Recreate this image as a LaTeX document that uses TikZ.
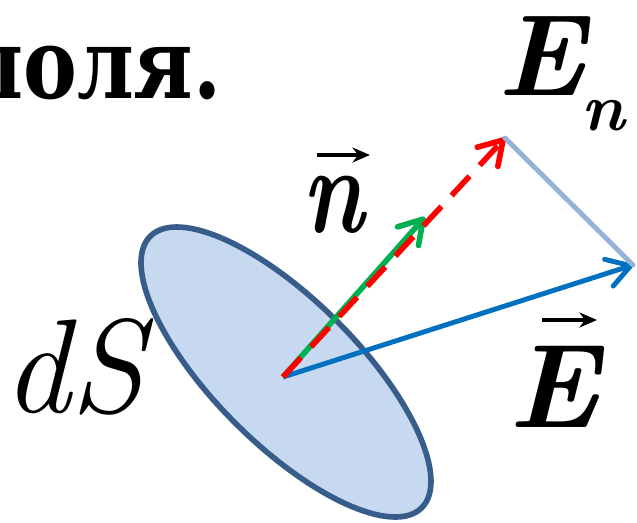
\documentclass[tikz,border=0pt]{standalone}
\usepackage{fontspec}
\usepackage{graphicx}
\newfontfamily\dvserif{DejaVu Serif}[FakeStretch=0.82]
\usetikzlibrary{arrows.meta}
\definecolor{surffill}{HTML}{C6D9F1}
\definecolor{surfline}{HTML}{385D8A}
\definecolor{eblue}{HTML}{0070C0}
\definecolor{ngreen}{HTML}{00B050}
\definecolor{projline}{HTML}{95B3D7}
\tikzset{
  surface/.style={fill=surffill, draw=surfline, line width=3.2pt},
  barb/.style={-{Straight Barb[length=13pt,width=16pt,round]}},
  evec/.style={barb, draw=eblue, line width=2.8pt},
  nvec/.style={barb, draw=ngreen, line width=3.2pt},
  projvec/.style={barb, draw=red, line width=3.2pt, dash pattern=on 15pt off 8.5pt},
  proj/.style={draw=projline, line width=2.8pt},
  overarr/.style={-{Stealth[length=10pt,width=8.5pt]}, line width=2pt},
  lab/.style={inner sep=0pt, font=\rmfamily\fontsize{68pt}{70pt}\selectfont\bfseries\itshape},
  title/.style={inner sep=0pt, font=\dvserif\fontsize{56pt}{60pt}\selectfont\bfseries},
}
\begin{document}
\begin{tikzpicture}[x=0.02cm, y=-0.02cm]
\useasboundingbox (0,0) rectangle (637,522);
\coordinate (C) at (286,372);
\coordinate (O) at (283,377);
\coordinate (G) at (425,217);
\coordinate (R) at (505,138);
\coordinate (B) at (633,265);
% surface element
\draw[surface, rotate around={-45:(C)}] (C) ellipse [x radius=3.84cm, y radius=1.44cm];
% vectors
\draw[evec] (O) -- (B);
\draw[nvec] (O) -- (G);
\draw[projvec] (O) -- (R);
\draw[proj, line cap=round] (R) -- (B);
% labels
\node[title, anchor=base east] (ttl) at (222,98) {поля.};
\node[lab, anchor=base west, font=\rmfamily\fontsize{66pt}{70pt}\selectfont\bfseries\itshape] (En) at (497,95) {E\kern-2pt\raisebox{-20pt}{\fontsize{38pt}{42pt}\selectfont n}};
\node[lab, anchor=base west, font=\rmfamily\fontsize{71pt}{74pt}\selectfont\bfseries\itshape] (nlab) at (302,232) {\scalebox{0.76}[1]{n}};
\draw[overarr, shift={(nlab.base west)}] (15,-77) -- (68,-77);
\node[inner sep=0pt, anchor=base west, font=\rmfamily\fontsize{76pt}{80pt}\selectfont\itshape] (dS) at (3,412) {dS};
\node[lab, anchor=base west] (Elab) at (508,427) {E};
\draw[overarr, shift={(Elab.base west)}] (34,-107) -- (89,-107);
\end{tikzpicture}
\end{document}
